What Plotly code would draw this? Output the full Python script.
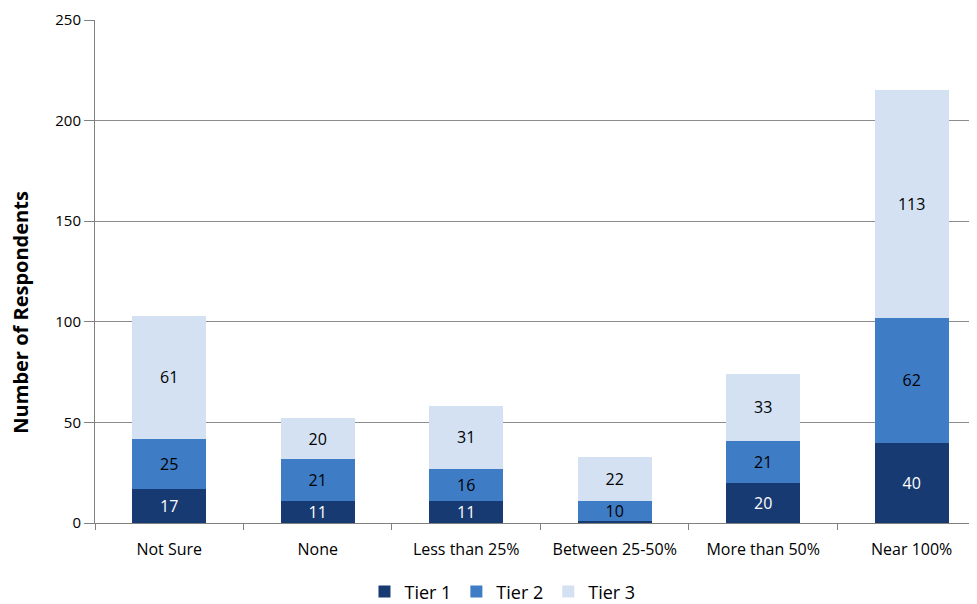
import plotly.graph_objects as go

categories = ["Not Sure", "None", "Less than 25%", "Between 25-50%", "More than 50%", "Near 100%"]
tier1 = [17, 11, 11, 1, 20, 40]
tier2 = [25, 21, 16, 10, 21, 62]
tier3 = [61, 20, 31, 22, 33, 113]
tier1_labels = ["17", "11", "11", "", "20", "40"]
y_title = "Number of Respondents"

colors = ["#173A73", "#3E7CC6", "#D3E1F3"]
font_family = "Open Sans, Liberation Sans, sans-serif"

fig = go.Figure()
series = [("Tier 1", tier1, tier1_labels, "white"),
          ("Tier 2", tier2, [str(v) for v in tier2], "black"),
          ("Tier 3", tier3, [str(v) for v in tier3], "black")]
for (name, vals, labels, tc), col in zip(series, colors):
    fig.add_trace(go.Bar(
        name=name, x=categories, y=vals, text=labels,
        textposition="inside", insidetextanchor="middle", textangle=0,
        constraintext="none",
        textfont=dict(color=tc, size=16, family=font_family),
        marker=dict(color=col, line=dict(width=0)),
        width=0.5, cliponaxis=False,
    ))

fig.update_layout(
    barmode="stack",
    width=969, height=596,
    margin=dict(l=87, r=0, t=12, b=81, autoexpand=False),
    plot_bgcolor="white", paper_bgcolor="white",
    font=dict(family=font_family, size=15, color="black"),
    showlegend=True,
    legend=dict(orientation="h", x=0.462, xanchor="center", y=-0.1, yanchor="top",
                font=dict(size=18, family=font_family), traceorder="normal",
                itemwidth=30, tracegroupgap=0),
    uniformtext=dict(mode="show", minsize=8),
)
fig.add_annotation(
    text="<b>" + y_title + "</b>", xref="paper", yref="paper",
    x=-0.084, y=0.42, xanchor="center", yanchor="middle", textangle=-90,
    showarrow=False, font=dict(size=20, family=font_family, color="black"),
)
fig.update_xaxes(
    range=[-0.5, 5.44], showline=True, linecolor="#808080", linewidth=1,
    ticks="outside", tickson="boundaries", ticklen=6, tickcolor="#808080",
    tickfont=dict(size=16), showgrid=False, automargin=False,
    ticklabelstandoff=12,
)
fig.update_yaxes(
    range=[0, 250], dtick=50, showline=True, linecolor="#808080", linewidth=1,
    ticks="outside", ticklen=10, tickcolor="#808080",
    showgrid=True, gridcolor="#8C8C8C", gridwidth=1,
    tickfont=dict(size=15), automargin=False,
    zeroline=False,
)

fig.write_html("out.html")
